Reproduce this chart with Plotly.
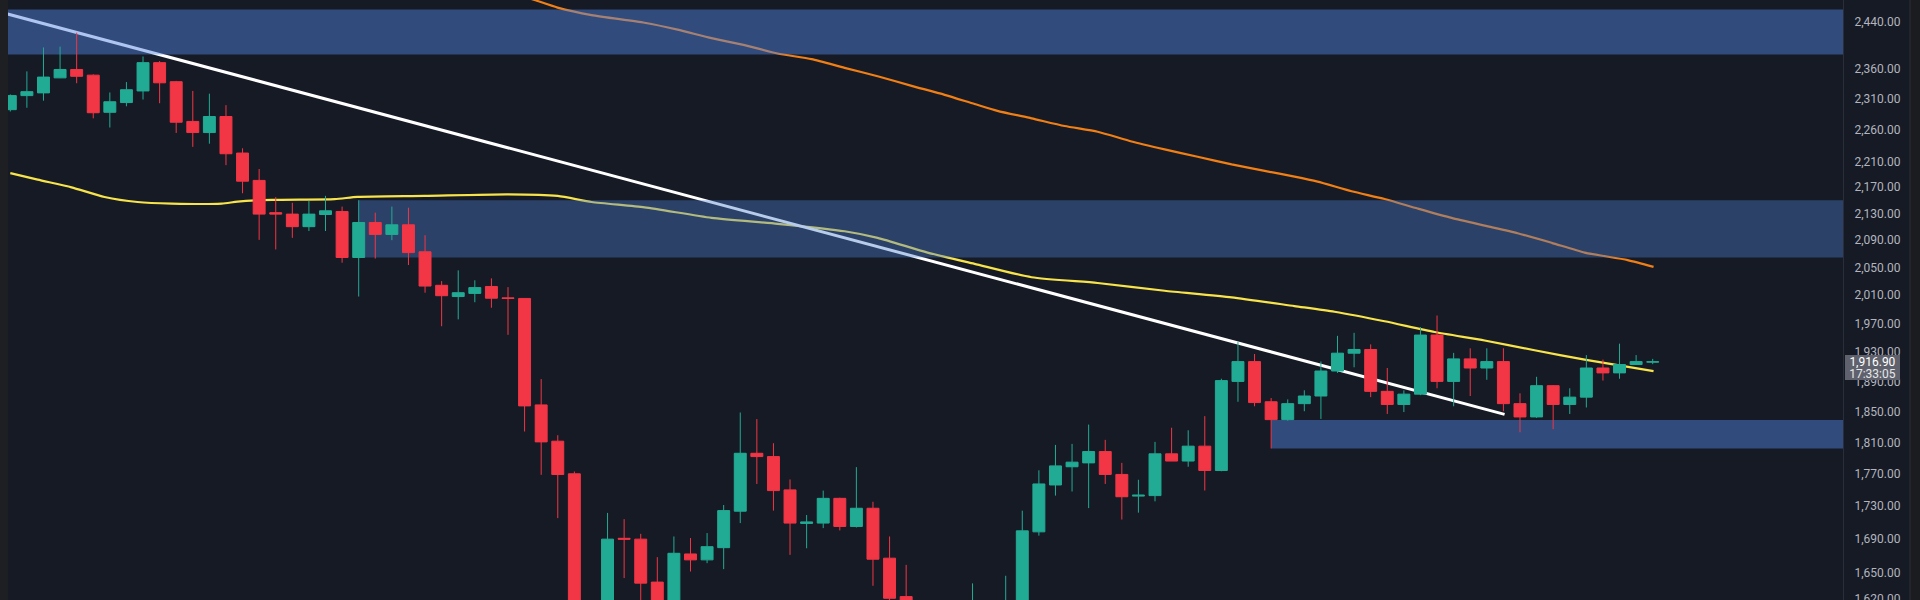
import math
import plotly.graph_objects as go

# ---------------- data ----------------
candle_index = list(range(100))
open_ = [2293.0, 2316.0, 2320.5, 2345.4, 2359.4, 2349.9, 2288.7, 2304.6, 2323.7, 2370.9,
         2339.0, 2273.9, 2256.0, 2281.9, 2223.4, 2180.6, 2131.2, 2129.0, 2110.1, 2128.4,
         2133.0, 2064.4, 2116.4, 2098.5, 2112.9, 2072.8, 2024.0, 2007.9, 2012.4, 2022.3,
         2006.0, 2005.2, 1859.1, 1811.8, 1770.3, 1585.0, 1590.0, 1691.0, 1690.0, 1639.2,
         1610.0, 1672.3, 1665.3, 1679.8, 1723.9, 1796.3, 1792.1, 1750.2, 1709.0, 1709.4,
         1739.7, 1705.3, 1727.5, 1667.3, 1622.4, 1595.0, 1575.0, 1590.0, 1585.0, 1600.0,
         1590.0, 1605.0, 1698.8, 1756.3, 1779.2, 1784.1, 1798.5, 1769.5, 1742.5, 1743.1,
         1795.6, 1786.4, 1805.4, 1774.5, 1890.4, 1917.2, 1863.3, 1839.8, 1860.8, 1870.9,
         1904.4, 1928.7, 1933.8, 1877.1, 1859.7, 1873.4, 1953.7, 1890.4, 1920.9, 1908.5,
         1917.2, 1860.8, 1843.3, 1884.7, 1859.7, 1869.4, 1908.5, 1901.9, 1913.2, 1916.5]
high = [2318.0, 2356.2, 2396.6, 2398.0, 2421.9, 2351.2, 2321.2, 2338.4, 2381.3, 2373.6,
        2340.4, 2323.7, 2319.2, 2300.4, 2230.9, 2198.3, 2154.9, 2146.2, 2149.1, 2156.8,
        2140.4, 2150.1, 2131.2, 2140.4, 2138.7, 2097.3, 2030.1, 2045.6, 2031.2, 2034.0,
        2021.4, 2005.6, 1893.5, 1819.5, 1773.2, 1610.0, 1721.8, 1714.2, 1696.4, 1668.5,
        1693.2, 1691.3, 1697.3, 1731.5, 1849.1, 1840.5, 1809.2, 1763.2, 1719.2, 1749.3,
        1740.5, 1778.7, 1735.5, 1693.2, 1659.4, 1612.0, 1600.0, 1610.0, 1637.7, 1612.0,
        1646.6, 1724.5, 1774.7, 1807.0, 1808.3, 1833.3, 1813.5, 1784.1, 1762.8, 1810.9,
        1829.2, 1825.9, 1844.3, 1894.0, 1944.5, 1927.6, 1868.2, 1866.4, 1878.5, 1917.4,
        1952.6, 1956.8, 1940.8, 1908.5, 1878.5, 1964.9, 1981.0, 1929.1, 1935.4, 1935.4,
        1935.4, 1874.5, 1896.6, 1885.5, 1881.2, 1926.1, 1919.9, 1941.8, 1926.1, 1920.9]
low = [2290.0, 2296.1, 2307.7, 2345.0, 2336.5, 2278.9, 2264.1, 2298.5, 2309.6, 2303.5,
       2255.4, 2233.2, 2238.2, 2204.4, 2160.8, 2090.4, 2076.2, 2093.4, 2103.6, 2103.6,
       2056.7, 2007.9, 2062.8, 2090.0, 2053.4, 2013.4, 1966.0, 1975.6, 1999.8, 1992.0,
       1954.0, 1824.3, 1769.0, 1715.4, 1570.0, 1545.0, 1570.0, 1643.9, 1612.0, 1595.0,
       1600.0, 1651.6, 1661.4, 1654.4, 1709.4, 1757.6, 1724.6, 1671.2, 1679.1, 1703.3,
       1700.5, 1704.0, 1634.9, 1617.0, 1585.0, 1560.0, 1550.0, 1565.0, 1570.0, 1575.0,
       1575.0, 1600.0, 1694.2, 1743.1, 1748.2, 1727.7, 1757.6, 1713.7, 1722.1, 1736.0,
       1786.4, 1779.2, 1749.4, 1773.5, 1863.3, 1857.3, 1802.5, 1838.3, 1850.8, 1840.7,
       1901.9, 1909.5, 1869.4, 1847.2, 1849.7, 1872.0, 1881.2, 1857.3, 1870.9, 1892.6,
       1850.8, 1823.3, 1842.0, 1827.3, 1847.2, 1855.7, 1891.5, 1894.0, 1912.5, 1913.7]
close = [2316.0, 2322.5, 2346.7, 2359.4, 2348.0, 2288.0, 2305.9, 2325.7, 2370.9, 2337.2,
         2272.6, 2256.0, 2281.9, 2222.3, 2179.4, 2129.0, 2129.0, 2110.1, 2129.0, 2134.0,
         2064.4, 2116.4, 2098.5, 2112.9, 2071.6, 2022.9, 2009.1, 2013.4, 2020.7, 2005.5,
         2005.2, 1857.8, 1810.9, 1769.4, 1585.0, 1575.0, 1690.0, 1690.0, 1638.0, 1605.0,
         1673.1, 1665.3, 1681.0, 1724.6, 1796.3, 1792.1, 1749.3, 1709.4, 1710.8, 1739.7,
         1705.3, 1727.5, 1666.1, 1620.5, 1595.0, 1575.0, 1590.0, 1580.0, 1600.0, 1590.0,
         1605.0, 1700.0, 1757.6, 1780.3, 1785.0, 1798.5, 1769.5, 1741.7, 1743.6, 1795.6,
         1786.4, 1805.4, 1774.5, 1891.5, 1917.2, 1862.2, 1839.8, 1860.8, 1870.9, 1904.4,
         1928.7, 1933.8, 1877.1, 1859.7, 1873.4, 1953.7, 1890.4, 1920.9, 1908.5, 1917.2,
         1860.8, 1843.3, 1884.7, 1859.7, 1869.4, 1908.5, 1901.9, 1913.2, 1917.2, 1916.9]

# moving average (yellow) read at positions along the chart
ma_fast_x = [0, 1.65, 3.69, 5.68, 7.67, 9.72, 12.74, 13.70, 15.75, 19.55, 20.93, 24.97,
             29.98, 32.99, 35.04, 38.23, 42.27, 46.25, 50.29, 52.28, 55.29, 58.12, 61.56,
             65.54, 69.58, 73.62, 77.41, 79.82, 82.84, 85.85, 88.87, 91.88, 94.9, 99.05]
ma_fast_y = [2192.0, 2181.7, 2169.9, 2155.1, 2147.4, 2145.0, 2145.0, 2147.9, 2150.7, 2151.9,
             2155.1, 2156.7, 2159.2, 2156.7, 2147.4, 2139.3, 2123.4, 2114.4, 2103.2, 2093.4,
             2071.6, 2055.1, 2035.6, 2027.3, 2016.2, 2006.8, 1994.3, 1986.3, 1972.9, 1957.9,
             1946.2, 1932.7, 1919.9, 1904.2]

# moving average (orange)
ma_slow_x = [30, 31.6, 32.99, 35.04, 38.23, 40.22, 42.27, 44.26, 46.25, 48.3, 50.29, 52.28,
             54.33, 56.32, 58.13, 59.5, 61.56, 63.55, 65.54, 67.59, 69.58, 71.57, 73.62,
             75.61, 77.41, 78.8, 80.85, 82.84, 84.83, 86.88, 88.87, 90.86, 92.91, 94.9,
             97.49, 99.05]
ma_slow_y = [2494.0, 2478.8, 2465.5, 2452.3, 2439.0, 2427.1, 2412.5, 2400.6, 2386.3, 2376.8,
             2362.1, 2348.1, 2332.1, 2317.3, 2302.2, 2291.1, 2278.9, 2266.5, 2257.3, 2241.8,
             2229.3, 2217.5, 2205.5, 2195.4, 2186.5, 2178.7, 2163.8, 2152.0, 2137.5, 2123.3,
             2111.7, 2100.3, 2086.0, 2071.6, 2060.6, 2050.6]

# descending trendline
trend_x = [-0.2, 90.07]
trend_y = [2454.6, 1846.7]

# supply / demand zones
zone_start = [-1, 21, 76]
zone_low = [2384.5, 2064.4, 1802.5]
zone_high = [2462.2, 2150.1, 1839.3]
zone_fill = ["rgba(80,132,224,0.47)", "rgba(75,125,205,0.40)", "rgba(80,132,224,0.47)"]

price_ticks = [2440, 2360, 2310, 2260, 2210, 2170, 2130, 2090, 2050, 2010, 1970, 1930,
               1890, 1850, 1810, 1770, 1730, 1690, 1650, 1620]
last_price = 1916.90
last_time = "17:33:05"

# ---------------- styling ----------------
BG = "#161a25"
UP = "#22ab94"
DOWN = "#f23645"
W, H = 1920, 600
ML, MR = 8, 77
x_range = [-0.1386, 110.47]
y_range = [math.log10(1618.49), math.log10(2478.79)]
FONT = "Roboto, Arial, sans-serif"

fig = go.Figure()

fig.add_trace(go.Scatter(x=ma_slow_x, y=ma_slow_y, mode="lines",
                         line=dict(color="#f07f16", width=2.2, shape="spline", smoothing=0.6),
                         hoverinfo="skip", showlegend=False))
fig.add_trace(go.Scatter(x=ma_fast_x, y=ma_fast_y, mode="lines",
                         line=dict(color="#f7e34b", width=2.2, shape="spline", smoothing=0.6),
                         hoverinfo="skip", showlegend=False))
fig.add_trace(go.Scatter(x=trend_x, y=trend_y, mode="lines",
                         line=dict(color="#ffffff", width=3),
                         hoverinfo="skip", showlegend=False))

x_end = x_range[1] + 2
for xs, lo, hi, fc in zip(zone_start, zone_low, zone_high, zone_fill):
    fig.add_trace(go.Scatter(x=[xs, x_end, x_end, xs, xs], y=[lo, lo, hi, hi, lo],
                             mode="lines", fill="toself", fillcolor=fc,
                             line=dict(width=0), hoverinfo="skip", showlegend=False))

fig.add_trace(go.Candlestick(
    x=candle_index, open=open_, high=high, low=low, close=close,
    xaxis="x2", yaxis="y2", whiskerwidth=0,
    increasing=dict(line=dict(color=UP, width=1), fillcolor=UP),
    decreasing=dict(line=dict(color=DOWN, width=1), fillcolor=DOWN),
    hoverinfo="skip", showlegend=False))

fig.update_layout(
    width=W, height=H,
    margin=dict(l=ML, r=MR, t=0, b=0, pad=0, autoexpand=False),
    paper_bgcolor=BG, plot_bgcolor=BG,
    boxgap=0.28, boxgroupgap=0,
    showlegend=False,
    xaxis=dict(range=x_range, visible=False, showgrid=False, zeroline=False,
               automargin=False, rangeslider=dict(visible=False)),
    xaxis2=dict(range=x_range, overlaying="x", visible=False, showgrid=False,
                zeroline=False, automargin=False, rangeslider=dict(visible=False)),
    yaxis=dict(type="log", range=y_range, side="right", showgrid=False, zeroline=False,
               showline=True, linecolor="#2a2e39", linewidth=1, ticks="",
               tickvals=price_ticks, ticktext=[f"{v:,.2f}" for v in price_ticks],
               tickfont=dict(family=FONT, size=12, color="#b2b5be"),
               ticklabelstandoff=8, ticklabeloverflow="allow", automargin=False),
    yaxis2=dict(type="log", range=y_range, overlaying="y", visible=False,
                showgrid=False, zeroline=False, automargin=False),
    shapes=[
        dict(type="rect", xref="paper", yref="paper", x0=-ML / (W - ML - MR), x1=0,
             y0=0, y1=1, fillcolor="#1e1f23", line=dict(width=0)),
        dict(type="rect", xref="paper", yref="paper",
             x0=(1910 - ML) / (W - ML - MR), x1=(W - ML) / (W - ML - MR) + 0.01,
             y0=0, y1=1, fillcolor="#1b1c20", line=dict(width=0)),
        dict(type="line", xref="paper", yref="paper",
             x0=(1910 - ML) / (W - ML - MR), x1=(1910 - ML) / (W - ML - MR),
             y0=0, y1=1, line=dict(color="#2c2e35", width=1)),
    ],
    annotations=[
        dict(xref="paper", yref="y", x=1, y=math.log10(last_price),
             xanchor="left", yanchor="middle", xshift=2, yshift=0,
             text=f"{last_price:,.2f}", showarrow=False,
             bgcolor="#5f626c", borderpad=0, borderwidth=0, width=55, height=13,
             align="center", font=dict(family=FONT, size=12, color="#ffffff")),
        dict(xref="paper", yref="y", x=1, y=math.log10(last_price),
             xanchor="left", yanchor="top", xshift=2, yshift=-6.5,
             text=last_time, showarrow=False,
             bgcolor="#5f626c", borderpad=0, borderwidth=0, width=55, height=12,
             align="center", font=dict(family=FONT, size=12, color="#e6e7ea")),
    ],
)

fig.write_html("out.html", config={"staticPlot": True},
               post_script="document.body.style.margin='0';document.body.style.overflow='hidden';")
